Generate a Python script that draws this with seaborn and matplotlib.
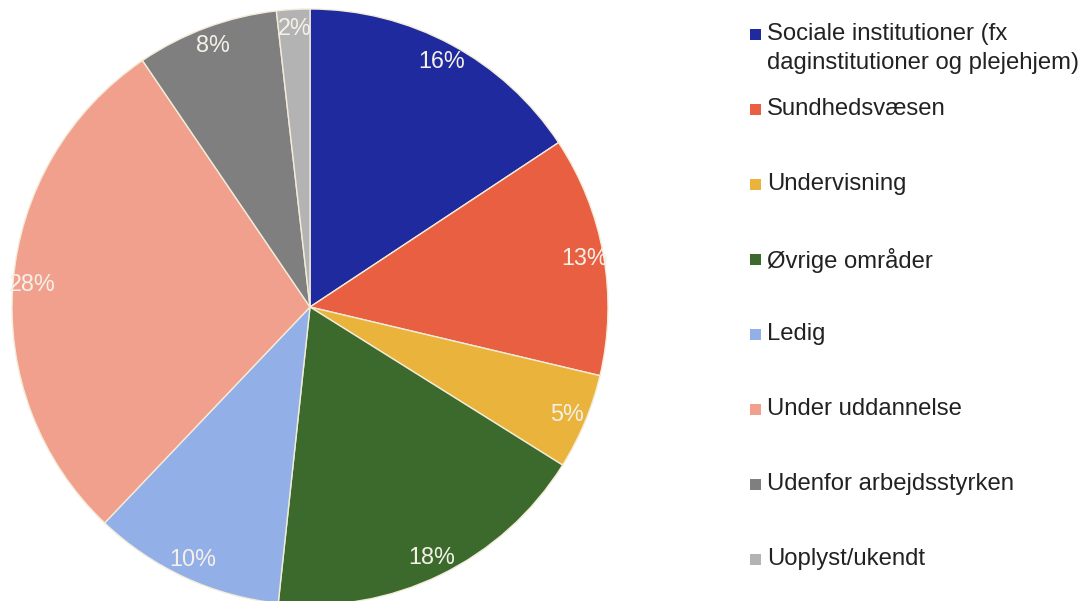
import matplotlib
matplotlib.use("Agg")
import matplotlib.pyplot as plt
import seaborn as sns
from matplotlib.patches import Rectangle

categories = [
    "Sociale institutioner (fx\ndaginstitutioner og plejehjem)",
    "Sundhedsvæsen",
    "Undervisning",
    "Øvrige områder",
    "Ledig",
    "Under uddannelse",
    "Udenfor arbejdsstyrken",
    "Uoplyst/ukendt",
]
shares = [15.7, 13.0, 5.2, 17.8, 10.4, 28.4, 7.7, 1.8]
colors = ["#1f2a9e", "#e85f42", "#e9b33c", "#3b6a2c", "#92afe8", "#f2a08e", "#7f7f7f", "#b3b3b3"]


def setup_style():
    sns.set_theme(style="white")
    plt.rcParams.update({"font.family": ["Liberation Sans", "DejaVu Sans"]})


def make_pie():
    setup_style()
    W, H = 1088, 601
    fig = plt.figure(figsize=(W / 100, H / 100), dpi=100)
    # pie centre ~ (310, 307) px, radius ~298 px
    cx, cy, r = 310, 307, 298
    ax = fig.add_axes([(cx - r) / W, (H - cy - r) / H, 2 * r / W, 2 * r / H])
    wedges, texts, autotexts = ax.pie(
        shares,
        colors=colors,
        startangle=90,
        counterclock=False,
        autopct="%.0f%%",
        pctdistance=0.935,
        wedgeprops={"edgecolor": "#f3ecd9", "linewidth": 1.0},
        textprops={"color": "#f5f1e8", "fontsize": 16.8},
    )
    ax.set_xlim(-1, 1)
    ax.set_ylim(-1, 1)
    ax.set_aspect("equal")
    ax.axis("off")

    # manual legend, first lines evenly spaced
    top, step = 35, 75
    for i, (label, color) in enumerate(zip(categories, colors)):
        y = top + i * step
        fig.patches.append(
            Rectangle((750 / W, 1 - (y + 5) / H), 11 / W, 11 / H,
                      transform=fig.transFigure, facecolor=color, edgecolor="none")
        )
        fig.text(767 / W, 1 - (y - 12) / H, label, fontsize=17.2, color="#222222",
                 va="top", ha="left", linespacing=1.4)

    fig.savefig("out.png", dpi=100)
    plt.close(fig)


if __name__ == "__main__":
    make_pie()
